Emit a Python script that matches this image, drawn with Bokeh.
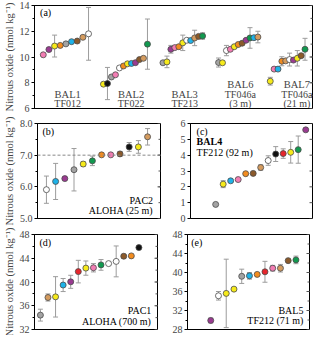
import numpy as np
from bokeh.plotting import figure
from bokeh.models import (Range1d, ColumnDataSource, Whisker, TeeHead, Label,
                          SingleIntervalTicker, Span, PrintfTickFormatter)
from bokeh.layouts import column, row
from bokeh.embed import file_html
from bokeh.resources import INLINE

# ---------------- data ----------------
COL = {"pink": "#f27db3", "purple": "#9a3b91", "yellow": "#f6ea1a", "orange": "#f28c1f",
       "gray": "#a3a3a3", "cyan": "#1eb2e8", "brown": "#8b5a2b", "tan": "#d49b5e",
       "white": "#ffffff", "black": "#111111", "red": "#e5262c", "green": "#11994f"}

# panel (a): Baltic stations
a_names = ["BAL1", "BAL2", "BAL3", "BAL6", "BAL7"]
a_sites = ["TF012", "TF022", "TF213", "TF046a", "TF046a"]
a_depths = ["", "", "", "(3 m)", "(21 m)"]
a_vals = [
    [10.17, 10.58, 10.85, 10.90, 11.02, 11.19, 11.24, 11.53, 11.80],
    [7.89, 7.94, 8.45, 8.62, 9.15, 9.30, 9.47, 9.50, 9.56, 9.80, 9.90, 11.00],
    [9.55, 9.62, 10.60, 10.73, 10.80, 11.10, 11.30, 11.28, 11.48, 11.60, 11.63],
    [9.57, 9.55, 10.50, 10.60, 10.80, 10.97, 11.07, 11.30, 11.48, 11.50, 11.55],
    [8.12, 9.06, 9.06, 9.67, 9.70, 9.80, 9.76, 9.90, 10.10, 10.60],
]
a_errs = [
    [0, 0, 0.85, 0, 0.12, 0, 0, 0, 2.05],
    [0, 1.25, 0.1, 0, 0, 0, 0, 0, 0, 0, 0.1, 1.95],
    [0.1, 0.45, 0.3, 0, 0, 0.6, 0, 0, 0.6, 0, 0.25],
    [0.35, 0, 0.4, 0, 0.1, 0, 0, 0, 0.8, 0, 0.45],
    [0.3, 0.1, 0, 0.35, 0, 0.5, 0, 0.6, 0, 0.85],
]
a_cols = [
    ["pink", "purple", "yellow", "orange", "gray", "cyan", "brown", "tan", "white"],
    ["yellow", "black", "gray", "pink", "white", "orange", "yellow", "cyan", "purple", "brown", "tan", "green"],
    ["gray", "yellow", "purple", "pink", "orange", "yellow", "white", "cyan", "tan", "brown", "green"],
    ["gray", "yellow", "white", "pink", "yellow", "orange", "brown", "purple", "green", "cyan", "tan"],
    ["yellow", "pink", "cyan", "orange", "tan", "white", "purple", "yellow", "brown", "green"],
]

# panel (b): PAC2, ALOHA 25 m
b_vals = [5.91, 6.17, 6.26, 6.54, 6.72, 6.82, 7.01, 7.01, 7.04, 7.26, 7.26, 7.58]
b_errs = [0.43, 0.57, 0, 0.67, 0.07, 0.15, 0, 0, 0.07, 0.14, 0.2, 0.26]
b_cols = ["white", "cyan", "purple", "gray", "yellow", "green", "orange", "pink", "brown", "black", "yellow", "tan"]

# panel (c): BAL4, TF212 92 m
c_vals = [0.89, 2.17, 2.38, 2.46, 2.83, 2.85, 3.22, 3.66, 4.07, 4.10, 4.18, 4.35, 5.60]
c_errs = [0, 0.22, 0, 0, 0, 0, 0.17, 0.3, 0.47, 0.3, 0.68, 0.86, 0]
c_cols = ["gray", "yellow", "cyan", "pink", "orange", "brown", "tan", "white", "black", "red", "yellow", "green", "purple"]

# panel (d): PAC1, ALOHA 700 m
d_vals = [34.42, 37.39, 37.50, 39.49, 40.03, 41.75, 42.34, 42.40, 42.88, 43.10, 43.47, 44.34, 44.40, 45.80]
d_errs = [1.0, 0.6, 3.4, 1.1, 1.1, 1.9, 1.2, 0.7, 0.9, 0, 2.6, 0.3, 0, 0]
d_cols = ["gray", "tan", "yellow", "cyan", "purple", "red", "yellow", "pink", "green", "white", "white", "brown", "orange", "black"]

# panel (e): BAL5, TF212 71 m
e_vals = [29.9, 35.1, 35.6, 36.5, 39.2, 39.3, 39.6, 40.15, 40.9, 40.9, 42.5, 42.65]
e_errs = [0.5, 0.9, 7.2, 0, 1.5, 0.7, 0, 2.2, 0.6, 0.8, 0, 0.8]
e_cols = ["purple", "white", "yellow", "yellow", "gray", "cyan", "orange", "red", "pink", "tan", "brown", "green"]

# ---------------- style ----------------
FONT = "Liberation Serif"
FS = "10px"
ERR = "#9c9c9c"
EDGE = "#4a4a4a"
YLAB = "Nitrous oxide (nmol kg\u207b\u00b9)"


def make_panel(xr, yr, fw, fh, bl, br, bt, bb, major, minor_n, fmt=None, ylabel=None):
    p = figure(x_range=Range1d(*xr), y_range=Range1d(*yr), frame_width=fw, frame_height=fh,
               min_border_left=bl, min_border_right=br, min_border_top=bt, min_border_bottom=bb,
               output_backend="svg", toolbar_location=None, x_axis_location=None,
               y_axis_location="left", background_fill_color="white", border_fill_color="white")
    p.grid.visible = False
    p.outline_line_color = "black"
    p.outline_line_width = 1
    ax = p.yaxis[0]
    ax.ticker = SingleIntervalTicker(interval=major, num_minor_ticks=minor_n)
    if fmt:
        ax.formatter = PrintfTickFormatter(format=fmt)
    ax.major_label_text_font = FONT
    ax.major_label_text_font_size = FS
    ax.major_label_standoff = 2
    ax.major_tick_out = 3
    ax.major_tick_in = 0
    ax.minor_tick_out = 2
    ax.minor_tick_in = 0
    ax.axis_line_color = "black"
    ax.major_tick_line_color = "black"
    ax.minor_tick_line_color = "black"
    if ylabel:
        ax.axis_label = ylabel
        ax.axis_label_text_font = FONT
        ax.axis_label_text_font_size = "10.5px"
        ax.axis_label_text_font_style = "normal"
        ax.axis_label_standoff = 2
    # inward tick marks on the right edge of the frame
    majors = np.arange(yr[0], yr[1] + 1e-9, major)
    p.scatter([xr[1]] * len(majors), majors, marker="dash", size=6, line_color="#555555", line_width=1)
    if minor_n:
        minors = np.arange(yr[0], yr[1] + 1e-9, major / minor_n)
        p.scatter([xr[1]] * len(minors), minors, marker="dash", size=4, line_color="#555555", line_width=1)
    return p


def add_points(p, xs, vals, errs, cols):
    ex = [x for x, e in zip(xs, errs) if e > 0]
    ev = [v for v, e in zip(vals, errs) if e > 0]
    ee = [e for e in errs if e > 0]
    if ex:
        src = ColumnDataSource(dict(x=ex, upper=[v + e for v, e in zip(ev, ee)],
                                    lower=[v - e for v, e in zip(ev, ee)]))
        w = Whisker(base="x", upper="upper", lower="lower", source=src,
                    line_color=ERR, line_width=1,
                    upper_head=TeeHead(size=5, line_color=ERR, line_width=1),
                    lower_head=TeeHead(size=5, line_color=ERR, line_width=1))
        p.add_layout(w)
    p.scatter(xs, vals, size=6, marker="circle", fill_color=[COL[c] for c in cols],
              line_color=EDGE, line_width=0.8)


def lab(p, fx, fy, text, align="left", bold=False):
    xr, yr = p.x_range, p.y_range
    p.add_layout(Label(x=xr.start + fx * (xr.end - xr.start), y=yr.start + fy * (yr.end - yr.start),
                       text=text, text_font=FONT, text_font_size=FS, text_align=align,
                       text_baseline="middle", text_font_style="bold" if bold else "normal",
                       text_color="black"))


# ---------------- panel (a) ----------------
pa = make_panel((31, 316), (6, 14), 278, 103, 30, 4, 5, 8, 2, 2, ylabel=YLAB)
a_start = [40, 101.7, 162.7, 219.7, 272.7]
a_step = [5.8, 4.1, 4.06, 4.03, 3.96]
for g in range(5):
    xs = [a_start[g] + i * a_step[g] for i in range(len(a_vals[g]))]
    add_points(pa, xs, a_vals[g], a_errs[g], a_cols[g])
a_lab_x = [65, 130, 185, 242, 300]
for g in range(5):
    rows = [a_names[g], a_sites[g]] + ([a_depths[g]] if a_depths[g] else [])
    ys = [7.11, 6.37] if len(rows) == 2 else [7.85, 7.11, 6.37]
    for t, yv in zip(rows, ys):
        pa.add_layout(Label(x=a_lab_x[g], y=yv, text=t, text_font=FONT,
                            text_font_size="10.5px" if t == a_names[g] else FS,
                            text_align="center", text_baseline="middle"))
lab(pa, 0.02, 0.93, "(a)")

# ---------------- panel (b) ----------------
pb = make_panel((37, 161), (5, 8), 123, 95, 33, 6, 7, 8, 1, 2, fmt="%.1f", ylabel=YLAB)
pb.add_layout(Span(location=7.0, dimension="width", line_color="#888888", line_dash="3 2", line_width=1))
add_points(pb, [46 + i * 9.27 for i in range(len(b_vals))], b_vals, b_errs, b_cols)
lab(pb, 0.04, 0.92, "(b)")
lab(pb, 0.94, 0.19, "PAC2", align="right")
lab(pb, 0.94, 0.08, "ALOHA (25 m)", align="right")

# ---------------- panel (c) ----------------
pc = make_panel((190, 316), (0, 6), 122, 95, 24, 4, 7, 8, 1, 0)
add_points(pc, [216 + i * 7.75 for i in range(len(c_vals))], c_vals, c_errs, c_cols)
lab(pc, 0.05, 0.92, "(c)")
lab(pc, 0.05, 0.81, "BAL4", bold=True)
lab(pc, 0.05, 0.70, "TF212 (92 m)")

# ---------------- panel (d) ----------------
pd_ = make_panel((37, 162), (32, 48), 123, 95, 33, 6, 8, 6, 4, 2, ylabel=YLAB)
add_points(pd_, [43 + i * 7.7 for i in range(len(d_vals))], d_vals, d_errs, d_cols)
lab(pd_, 0.04, 0.92, "(d)")
lab(pd_, 0.95, 0.20, "PAC1", align="right")
lab(pd_, 0.95, 0.08, "ALOHA (700 m)", align="right")

# ---------------- panel (e) ----------------
pe = make_panel((190, 316), (28, 48), 122, 95, 24, 4, 8, 6, 4, 2)
add_points(pe, [214 + i * 8.0 for i in range(len(e_vals))], e_vals, e_errs, e_cols)
lab(pe, 0.03, 0.92, "(e)")
lab(pe, 0.95, 0.20, "BAL5", align="right")
lab(pe, 0.95, 0.09, "TF212 (71 m)", align="right")

layout = column(pa, row(pb, pc, spacing=0), row(pd_, pe, spacing=0), spacing=0)
open("out.html", "w").write(file_html(layout, INLINE))
